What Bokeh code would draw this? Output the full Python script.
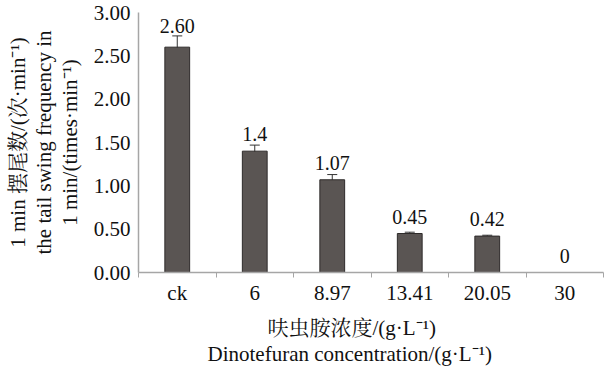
from bokeh.plotting import figure
from bokeh.models import Range1d, FixedTicker, Whisker, ColumnDataSource, Title
from bokeh.core.properties import value
from bokeh.embed import file_html
from bokeh.resources import INLINE

categories = ["ck", "6", "8.97", "13.41", "20.05", "30"]
values = [2.60, 1.40, 1.07, 0.45, 0.42, 0.0]
errors = [0.13, 0.07, 0.06, 0.015, 0.01, 0.0]
value_labels = ["2.60", "1.4", "1.07", "0.45", "0.42", "0"]
y_ticks = [0.0, 0.5, 1.0, 1.5, 2.0, 2.5, 3.0]
x_title_lines = ["呋虫胺浓度/(g·L⁻¹)", "Dinotefuran concentration/(g·L⁻¹)"]
y_title_lines = ["1 min 摆尾数/(次·min⁻¹)", "the tail swing frequency in", "1 min/(times·min⁻¹)"]

SERIF = "'Liberation Serif', 'Noto Serif CJK SC', 'Noto Sans CJK SC'"
TXT = "#111111"
AX = "#a6a6a6"

xs = [i + 0.5 for i in range(len(categories))]

p = figure(width=604, height=368, output_backend="svg", toolbar_location=None,
           x_range=Range1d(0, len(categories)), y_range=Range1d(0, 3.0),
           min_border_left=138, min_border_right=1, min_border_top=12,
           min_border_bottom=96)
p.outline_line_color = None
p.xgrid.grid_line_color = None
p.ygrid.grid_line_color = None

src = ColumnDataSource(dict(x=xs, lab=value_labels,
                            laby=[v + max(e, 0.08) for v, e in zip(values, errors)]))
nz = [i for i, v in enumerate(values) if v > 0]
src_nz = ColumnDataSource(dict(x=[xs[i] for i in nz], top=[values[i] for i in nz],
                               lower=[values[i] - errors[i] for i in nz],
                               upper=[values[i] + errors[i] for i in nz]))

p.vbar(x="x", top="top", bottom=0, width=0.32, source=src_nz,
       fill_color="#5a5553", line_color="#2e2b2a", line_width=1)
w = Whisker(base="x", lower="lower", upper="upper", source=src_nz,
            line_color="#333333", line_width=1)
w.upper_head.size = 10
w.lower_head.size = 10
w.upper_head.line_color = "#333333"
w.lower_head.line_color = "#333333"
p.add_layout(w)

p.text(x="x", y="laby", text="lab", source=src, y_offset=-3,
       text_align="center", text_baseline="bottom",
       text_font=value("Liberation Serif"), text_font_size="20px",
       text_color=TXT)

# axes
p.yaxis.ticker = FixedTicker(ticks=y_ticks)
p.yaxis.major_label_overrides = {t: f"{t:.2f}" for t in y_ticks}
p.yaxis.major_tick_out = 0
p.yaxis.major_tick_in = 0
p.yaxis.minor_tick_out = 0
p.yaxis.minor_tick_in = 0
p.yaxis.axis_line_color = AX
p.yaxis.axis_line_width = 1.5
p.yaxis.major_label_text_font = SERIF
p.yaxis.major_label_text_font_size = "21px"
p.yaxis.major_label_text_color = TXT
p.yaxis.major_label_standoff = 8
p.yaxis.axis_label = " "
p.yaxis.axis_label_text_font_size = "1px"
p.yaxis.axis_label_standoff = 5

p.xaxis.ticker = FixedTicker(ticks=xs, minor_ticks=list(range(len(categories) + 1)))
p.xaxis.major_label_overrides = {x: c for x, c in zip(xs, categories)}
p.xaxis.major_tick_out = 0
p.xaxis.major_tick_in = 0
p.xaxis.minor_tick_out = 5
p.xaxis.minor_tick_in = 0
p.xaxis.minor_tick_line_color = AX
p.xaxis.axis_line_color = AX
p.xaxis.axis_line_width = 1.5
p.xaxis.major_label_text_font = SERIF
p.xaxis.major_label_text_font_size = "21px"
p.xaxis.major_label_text_color = TXT
p.xaxis.major_label_standoff = 3
p.xaxis.axis_label = " "
p.xaxis.axis_label_text_font_size = "1px"
p.xaxis.axis_label_standoff = 2

# axis titles
for txt, off, so in zip(x_title_lines, [129, 69], [0, 0]):
    p.add_layout(Title(text=txt, align="left", offset=off, standoff=so,
                       text_font=SERIF, text_font_size="21px",
                       text_font_style="normal", text_color=TXT), "below")

for txt in reversed(y_title_lines):
    p.add_layout(Title(text=txt, align="center", standoff=0,
                       text_font=SERIF, text_font_size="21px",
                       text_font_style="normal", text_color=TXT), "left")

open("out.html", "w").write(file_html(p, INLINE))
